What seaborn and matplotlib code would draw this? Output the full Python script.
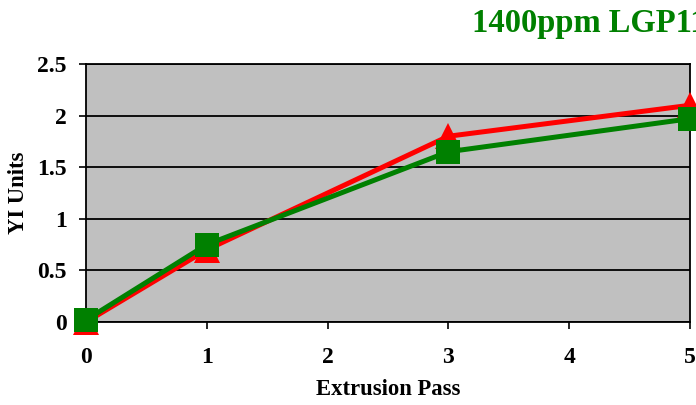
import matplotlib
matplotlib.use("Agg")
import matplotlib.pyplot as plt
import seaborn as sns
import pandas as pd

passes = [0, 1, 3, 5]
red_values = [0.0, 0.70, 1.80, 2.10]
green_values = [0.02, 0.75, 1.65, 1.97]
x_ticks = [0, 1, 2, 3, 4, 5]
y_ticks = [0, 0.5, 1, 1.5, 2, 2.5]
y_tick_labels = ["0", "0.5", "1", "1.5", "2", "2.5"]
title = "1400ppm LGP11"

sns.set_theme(style="white")
plt.rcParams['font.family'] = ['Liberation Serif', 'DejaVu Serif']
plt.rcParams['font.weight'] = 'bold'
plt.rcParams['text.color'] = 'black'
plt.rcParams['axes.labelcolor'] = 'black'

fig = plt.figure(figsize=(6.96, 4.05), dpi=100)
ax = fig.add_axes([86/696, 1-322/405, (690-86)/696, (322-64)/405])
ax.set_facecolor("#C0C0C0")

df_red = pd.DataFrame({"x": passes, "y": red_values})
df_green = pd.DataFrame({"x": passes, "y": green_values})

sns.lineplot(data=df_red, x="x", y="y", ax=ax, color="#FF0000", linewidth=3.6,
             marker="^", markersize=19, markeredgewidth=0, clip_on=False, zorder=3)
sns.lineplot(data=df_green, x="x", y="y", ax=ax, color="#008000", linewidth=3.6,
             marker="s", markersize=17, markeredgewidth=0, clip_on=False, zorder=4)

ax.set_xlim(0, 5)
ax.set_ylim(0, 2.5)
ax.set_xticks(x_ticks)
ax.set_xticklabels([str(t) for t in x_ticks])
ax.set_yticks(y_ticks)
ax.set_yticklabels(y_tick_labels)
ax.yaxis.grid(True, color="black", linewidth=1.3)
ax.xaxis.grid(False)
ax.set_axisbelow(True)

for side in ["left", "right", "bottom", "top"]:
    ax.spines[side].set_visible(True)
    ax.spines[side].set_color("black")
    ax.spines[side].set_linewidth(1.3)

ax.tick_params(axis="both", which="both", direction="out", length=5, width=1.2,
               colors="black", labelsize=17)
ax.tick_params(axis="x", bottom=True, pad=13)
ax.tick_params(axis="y", left=True, pad=9)
for lbl in ax.get_xticklabels() + ax.get_yticklabels():
    lbl.set_fontweight("bold")

ax.set_xlabel("Extrusion Pass", fontsize=16.3, fontweight="bold", labelpad=8, color="black")
ax.set_ylabel("YI Units", fontsize=16.3, fontweight="bold", color="black")
ax.yaxis.set_label_coords(-57/604, 0.5)

fig.text(472/696, 1-32/405, title, color="#008000", fontsize=23.5, fontweight="bold",
         ha="left", va="baseline")

fig.savefig("out.png", dpi=100)
